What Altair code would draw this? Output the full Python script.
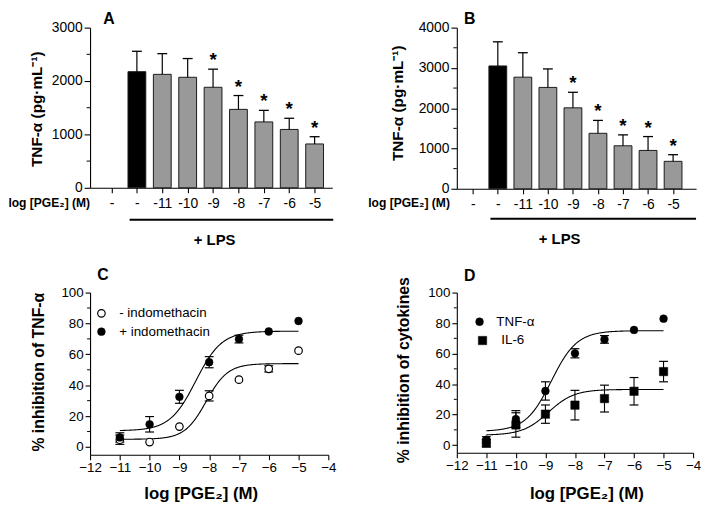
import json
import altair as alt
import pandas as pd

FONT = "Liberation Sans, Arial, Helvetica, sans-serif"

# ---------------- data: panels A and B (bars) ----------------
bar_index = [0, 1, 2, 3, 4, 5, 6, 7, 8]
bar_labels = ["-", "-", "-11", "-10", "-9", "-8", "-7", "-6", "-5"]
bar_fill = [None, "#000000", "#999999", "#999999", "#999999", "#999999", "#999999", "#999999", "#999999"]
bar_sig = [0, 0, 0, 0, 1, 1, 1, 1, 1]
a_mean = [None, 2175, 2125, 2070, 1883, 1469, 1234, 1093, 821]
a_err_top = [None, 2557, 2513, 2421, 2222, 1728, 1450, 1302, 957]
b_mean = [None, 3049, 2770, 2516, 2009, 1377, 1067, 952, 681]
b_err_top = [None, 3648, 3377, 2975, 2395, 1697, 1338, 1296, 846]

# ---------------- data: panels C and D (concentration-response) ----------------
dose = [-11, -10, -9, -8, -7, -6, -5]
c_minus_mean = [4.7, 3.2, 13.2, 33.1, 43.6, 50.6, 62.4]
c_minus_err = [3.0, 0.0, 0.0, 3.3, 0.0, 2.0, 0.0]
c_plus_mean = [6.2, 14.7, 32.5, 54.9, 69.9, 74.8, 81.6]
c_plus_err = [3.0, 5.0, 4.2, 3.6, 2.5, 0.0, 0.0]
d_tnf_mean = [3.5, 17.1, 35.5, 60.2, 69.3, 75.5, 82.9]
d_tnf_err = [2.0, 5.5, 6.0, 3.0, 2.5, 0.0, 0.0]
d_il6_mean = [1.3, 13.2, 20.3, 26.2, 30.5, 35.3, 48.2]
d_il6_err = [2.5, 8.0, 6.0, 9.7, 8.8, 9.0, 6.7]

# fitted sigmoid parameters: bottom, top, logEC50, hill slope
c_minus_fit = [5.0, 54.0, -8.1, 1.2]
c_plus_fit = [10.5, 75.0, -8.45, 1.0]
d_tnf_fit = [9.0, 75.0, -8.8, 1.0]
d_il6_fit = [6.5, 36.5, -8.9, 1.0]


def label(text, x, y, size, weight="normal", align="left", baseline="middle"):
    return alt.Chart(pd.DataFrame({"t": [text]})).mark_text(
        font=FONT, fontSize=size, fontWeight=weight, align=align,
        baseline=baseline, color="black"
    ).encode(x=alt.value(x), y=alt.value(y), text="t:N")


def bar_panel(mean, errtop, ymax, major, minor, xdom, width, height,
              letter, letter_xy, ytitle_xy, log_xy, lps_x, lps_y, lps_txt_xy):
    df = pd.DataFrame({"idx": bar_index, "label": bar_labels, "mean": mean,
                       "err": errtop, "fill": bar_fill, "sig": bar_sig}).dropna()
    xs = alt.Scale(domain=xdom, nice=False, zero=False)
    ys = alt.Scale(domain=[0, ymax], nice=False, zero=True)
    xaxis = alt.Axis(values=bar_index, labelExpr=json.dumps(bar_labels) + "[datum.value]",
                     title=None, tickSize=5, labelFontSize=14, labelPadding=4,
                     labelFlush=False, labelOverlap=False, grid=False)
    yaxis = alt.Axis(values=major, format="d", title="TNF-α (pg·mL⁻¹)", tickSize=6,
                     labelFontSize=14, labelPadding=2, grid=False, titleFontSize=15.5,
                     titleFontWeight="bold", titleX=ytitle_xy[0], titleY=ytitle_xy[1],
                     titleAngle=270, titleAlign="center", titleBaseline="middle")
    X = lambda f: alt.X(f, scale=xs, axis=xaxis)
    Y = lambda f: alt.Y(f, scale=ys, axis=yaxis)
    base = alt.Chart(df)
    bars = base.mark_bar(size=18, stroke="#1a1a1a", strokeWidth=1).encode(
        x=X("idx:Q"), y=Y("mean:Q"), fill=alt.Fill("fill:N", scale=None))
    err = base.mark_rule(color="black", strokeWidth=1.2).encode(
        x=X("idx:Q"), y=Y("mean:Q"), y2="err:Q")
    caps = base.mark_tick(orient="horizontal", size=10, thickness=1.3, color="black", opacity=1).encode(
        x=X("idx:Q"), y=Y("err:Q"))
    stars = base.transform_filter("datum.sig == 1").mark_text(
        text="*", font=FONT, fontSize=19, fontWeight="bold", dy=-3,
        baseline="alphabetic", color="black").encode(x=X("idx:Q"), y=Y("err:Q"))
    minors = alt.Chart(pd.DataFrame({"v": minor})).mark_rule(color="black", strokeWidth=1).encode(
        y=Y("v:Q"), x=alt.value(-3.5), x2=alt.value(0))
    lps_rule = alt.Chart(pd.DataFrame({"t": ["lps"]})).mark_rule(color="black", strokeWidth=2).encode(
        x=alt.value(lps_x[0]), x2=alt.value(lps_x[1]), y=alt.value(lps_y))
    return alt.layer(
        bars, err, caps, stars, minors, lps_rule,
        label("+ LPS", lps_txt_xy[0], lps_txt_xy[1], 15, "bold", "center"),
        label("log [PGE₂] (M)", log_xy[0], log_xy[1], 12.2, "bold", "right"),
        label(letter, letter_xy[0], letter_xy[1], 16, "bold", "center", "alphabetic"),
    ).properties(width=width, height=height)


def marker_style(kind):
    if kind == "open":
        return dict(shape="circle", size=58, filled=True, fill="white", stroke="black",
                    strokeWidth=1.2, opacity=1)
    if kind == "square":
        return dict(shape="square", size=72, filled=True, fill="black", stroke="black",
                    strokeWidth=0.5, opacity=1)
    return dict(shape="circle", size=62, filled=True, fill="black", stroke="black",
                strokeWidth=0.5, opacity=1)


def legend_marker(kind, x, y):
    return alt.Chart(pd.DataFrame({"t": [kind]})).mark_point(**marker_style(kind)).encode(
        x=alt.value(x), y=alt.value(y))


def curve_panel(series, fits, ytitle, width, height, letter, letter_xy, ytitle_xy,
                xtitle_xy, legend_items):
    xs = alt.Scale(domain=[-12, -4], nice=False, zero=False)
    ys = alt.Scale(domain=[-5, 100], nice=False, zero=False)
    xaxis = alt.Axis(
        values=list(range(-12, -3)), title="log [PGE₂] (M)", tickSize=5,
        labelFontSize=13.5, labelPadding=1, labelFlush=False, labelOverlap=False,
        grid=False, titleFontSize=17, titleFontWeight="bold",
        titleX=xtitle_xy[0], titleY=xtitle_xy[1], titleAlign="center",
        titleBaseline="middle")
    yaxis = alt.Axis(
        values=[0, 20, 40, 60, 80, 100], title=ytitle, tickSize=5,
        labelFontSize=13.5, labelPadding=2, grid=False, titleFontSize=16,
        titleFontWeight="bold", titleX=ytitle_xy[0], titleY=ytitle_xy[1],
        titleAngle=270, titleAlign="center", titleBaseline="middle")
    X = lambda f: alt.X(f, scale=xs, axis=xaxis)
    Y = lambda f: alt.Y(f, scale=ys, axis=yaxis)

    minors = alt.Chart(pd.DataFrame({"v": [10, 30, 50, 70, 90]})).mark_rule(
        color="black", strokeWidth=1).encode(y=Y("v:Q"), x=alt.value(-3), x2=alt.value(0))
    layers = [minors]
    pts_layers = []
    for (mean, err, kind) in series:
        df = pd.DataFrame({"x": dose, "y": mean, "e": err})
        df["lo"] = df["y"] - df["e"]
        df["hi"] = df["y"] + df["e"]
        dfe = df[df["e"] > 0]
        layers.append(alt.Chart(dfe).mark_rule(color="black", strokeWidth=1.1).encode(
            x=X("x:Q"), y=Y("lo:Q"), y2="hi:Q"))
        for f in ("lo:Q", "hi:Q"):
            layers.append(alt.Chart(dfe).mark_tick(
                orient="horizontal", size=9, thickness=1.2, color="black", opacity=1).encode(
                x=X("x:Q"), y=Y(f)))
        pts_layers.append(alt.Chart(df).mark_point(**marker_style(kind)).encode(
            x=X("x:Q"), y=Y("y:Q")))
    for (b, t, ec, h) in fits:
        expr = f"{b} + ({t} - {b}) / (1 + pow(10, ({ec} - datum.x) * {h}))"
        layers.append(alt.Chart(alt.sequence(-11, -4.99, 0.02, as_="x")).transform_calculate(
            y=expr).mark_line(color="black", strokeWidth=1.1).encode(x=X("x:Q"), y=Y("y:Q")))
    layers.extend(pts_layers)
    for (kind, text, mx, my, tx) in legend_items:
        layers.append(legend_marker(kind, mx, my))
        layers.append(label(text, tx, my, 13.5, "normal", "left"))
    layers.append(label(letter, letter_xy[0], letter_xy[1], 16, "bold", "center", "alphabetic"))
    return alt.layer(*layers).properties(width=width, height=height)


panel_a = bar_panel(a_mean, a_err_top, 3000, [0, 1000, 2000, 3000], [500, 1500, 2500],
                    [-0.65, 8.5], 245, 162, "A", (19, -4), (-54.5, 82), (0, 177),
                    (40, 246), 194.3, (126, 215))
panel_b = bar_panel(b_mean, b_err_top, 4000, [0, 1000, 2000, 3000, 4000],
                    [500, 1500, 2500, 3500], [-0.44, 8.72], 242, 163, "B", (13, -4),
                    (-60, 76), (-7, 177), (34, 242), 193.3, (104, 214))

panel_c = curve_panel(
    [(c_minus_mean, c_minus_err, "open"), (c_plus_mean, c_plus_err, "filled")],
    [c_minus_fit, c_plus_fit], "% inhibition of TNF-α", 241, 164, "C", (13, -13),
    (-52.5, 80), (112, 39),
    [("open", "- indomethacin", 11.5, 21, 29.5), ("filled", "+ indomethacin", 11.5, 39.5, 29.5)])
panel_d = curve_panel(
    [(d_tnf_mean, d_tnf_err, "filled"), (d_il6_mean, d_il6_err, "square")],
    [d_tnf_fit, d_il6_fit], "% inhibition of cytokines", 239, 162, "D", (13, -12),
    (-53.5, 78), (131, 41),
    [("filled", "TNF-α", 23, 29.5, 40), ("square", "IL-6", 26, 48.5, 45)])

chart = alt.concat(
    panel_a, panel_b, panel_c, panel_d, columns=2, bounds="flush",
    spacing=alt.RowColnumber(row=105, column=126)
).properties(padding=0).configure(font=FONT).configure_view(stroke=None).configure_axis(
    domainColor="black", tickColor="black", labelColor="black", titleColor="black",
    domainWidth=1.1, tickWidth=1.1, labelFont=FONT, titleFont=FONT
)

chart.save("out.html", embed_options={"renderer": "svg", "actions": False})
